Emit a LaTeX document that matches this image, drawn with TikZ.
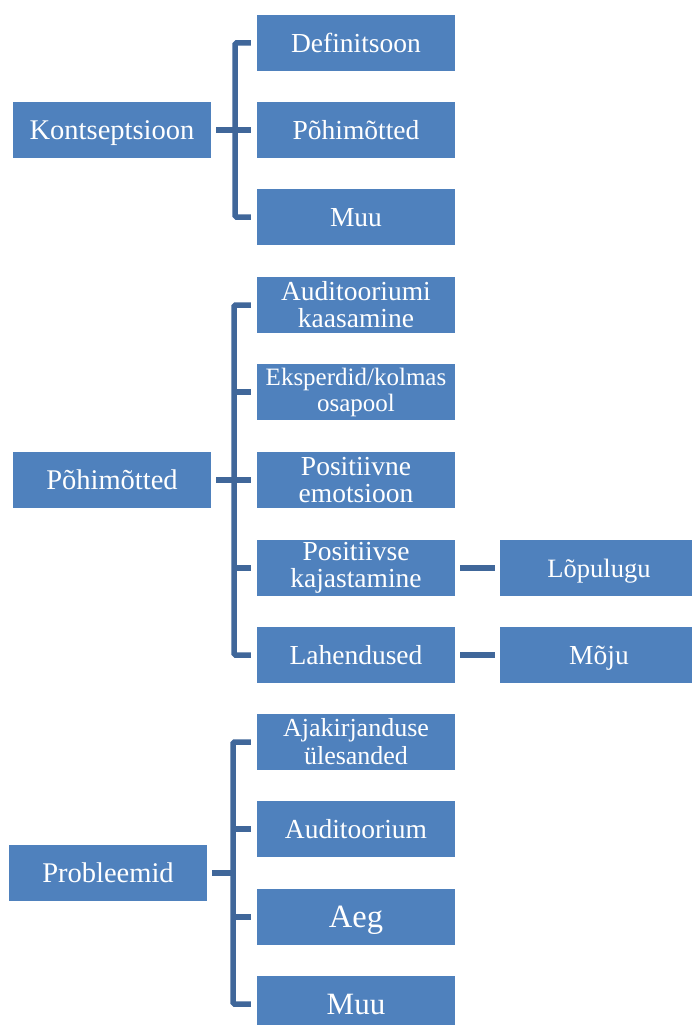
\documentclass[tikz,border=0pt]{standalone}
\usepackage{fontspec}
\setmainfont{Liberation Serif}
\definecolor{boxblue}{HTML}{4F81BD}
\definecolor{linkblue}{HTML}{40679A}
\tikzset{
  box/.style = {fill = boxblue, text = white, minimum width = 198pt, minimum height = 56pt,
    inner sep = 0pt, align = center, font = \fontsize{27.5}{27}\selectfont},
  oneline/.style = {box, text depth = 0pt},
  parent/.style = {oneline, font = \fontsize{28.5}{28}\selectfont},
  link/.style = {draw = linkblue, line width = 5.5pt, rounded corners = 1.5pt},
}
\begin{document}
\begin{tikzpicture}[x = 1pt, y = -1pt]
  \useasboundingbox (0, 0) rectangle (692, 1025);
  %\draw[lightgray] (0, 0) grid[step = 50] (692, 1025);

  % first group
  \node[parent] (kon) at (112, 130) {Kontseptsioon};
  \node[oneline] (def) at (356, 43) {Definitsoon};
  \node[oneline] (pm1) at (356, 130) {Põhimõtted};
  \node[oneline] (muu1) at (356, 217) {Muu};
  \coordinate (kb) at (235, 130);
  \draw[link] ([xshift = -6pt]def.west) -| (kb) |- ([xshift = -6pt]muu1.west);
  \draw[link] ([xshift = 5pt]kon.east) -- ([xshift = -6pt]pm1.west);

  % second group
  \node[parent] (pm2) at (112, 480) {Põhimõtted};
  \node[box] (aud) at (356, 305) {Auditooriumi\\kaasamine};
  \node[box, font = \fontsize{25}{26}\selectfont] (eks) at (356, 392) {Eksperdid/kolmas\\osapool};
  \node[box] (pos) at (356, 480) {Positiivne\\emotsioon};
  \node[box] (kaj) at (356, 568) {Positiivse\\kajastamine};
  \node[oneline] (lah) at (356, 655) {Lahendused};
  \node[oneline, font = \fontsize{26.5}{27}\selectfont] (lop) at (599, 568) {Lõpulugu};
  \node[oneline] (moj) at (599, 655) {Mõju};
  \coordinate (mb) at (234, 480);
  \draw[link] ([xshift = -6pt]aud.west) -| (mb) |- ([xshift = -6pt]lah.west);
  \draw[link] (eks.west -| mb) -- ([xshift = -6pt]eks.west);
  \draw[link] (kaj.west -| mb) -- ([xshift = -6pt]kaj.west);
  \draw[link] ([xshift = 5pt]pm2.east) -- ([xshift = -6pt]pos.west);
  \draw[link] ([xshift = 5pt]kaj.east) -- ([xshift = -5pt]lop.west);
  \draw[link] ([xshift = 5pt]lah.east) -- ([xshift = -5pt]moj.west);

  % third group
  \node[parent] (pro) at (108, 873) {Probleemid};
  \node[box, font = \fontsize{26}{28}\selectfont] (ajk) at (356, 742) {Ajakirjanduse\\ülesanded};
  \node[oneline] (adt) at (356, 829) {Auditoorium};
  \node[oneline, font = \fontsize{32.5}{32}\selectfont] (aeg) at (356, 917) {Aeg};
  \node[oneline, font = \fontsize{31}{31}\selectfont] (muu2) at (356, 1004) {Muu};
  \coordinate (pb) at (233, 873);
  \draw[link] ([xshift = -6pt]ajk.west) -| (pb) |- ([xshift = -6pt]muu2.west);
  \draw[link] (adt.west -| pb) -- ([xshift = -6pt]adt.west);
  \draw[link] (aeg.west -| pb) -- ([xshift = -6pt]aeg.west);
  \draw[link] ([xshift = 5pt]pro.east) -- (pb);
\end{tikzpicture}
\end{document}
